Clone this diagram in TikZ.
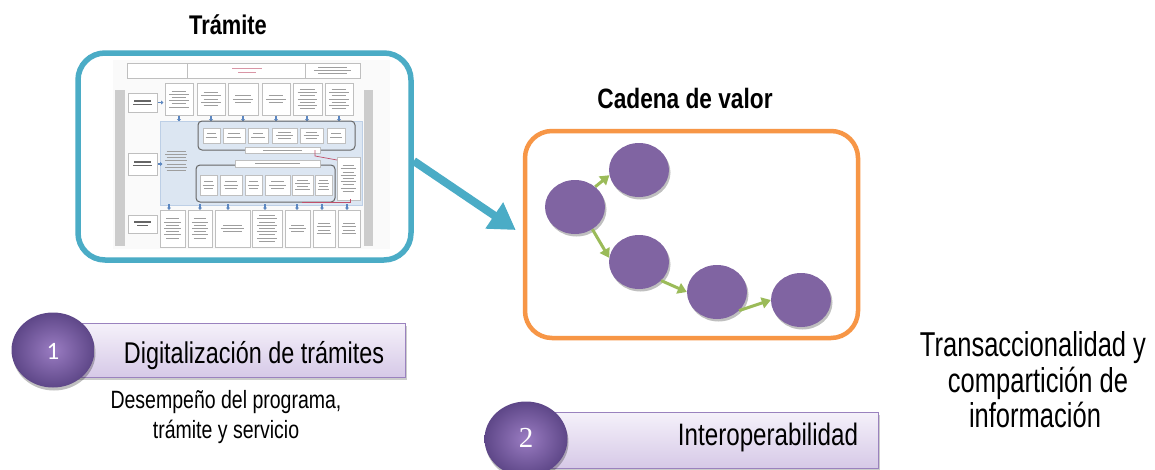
\documentclass[tikz,border=0pt]{standalone}
\usepackage{fontspec}
\setmainfont{Liberation Sans}
\newfontfamily\nar{Liberation Sans}[FakeStretch=0.78]
\newfontfamily\narr{Liberation Sans}[FakeStretch=0.74]
\newfontfamily\narb{Liberation Sans}[FakeStretch=0.81]
\newfontfamily\carl{Carlito}
\newfontfamily\tms{Liberation Serif}
\usetikzlibrary{arrows.meta,shadows,shapes.geometric}
\definecolor{tblue}{HTML}{4BACC6}
\definecolor{torange}{HTML}{F79646}
\definecolor{cpurple}{HTML}{8064A2}
\definecolor{cgreen}{HTML}{9BBB59}
\definecolor{rtop}{HTML}{F5F1FA}
\definecolor{rbot}{HTML}{D6C9E7}
\definecolor{rborder}{HTML}{9A82BE}
\definecolor{bin}{HTML}{9A7CC2}
\definecolor{bout}{HTML}{5E4788}
\definecolor{pmblue}{HTML}{DCE6F2}
\definecolor{pmarrow}{HTML}{5B86C0}
\definecolor{pmred}{HTML}{C0506A}
\tikzset{
  framebox/.style={draw, rounded corners=27pt, minimum width=333pt, minimum height=207pt, inner sep=0pt},
  chainball/.style={ellipse, fill=cpurple, minimum width=60pt, minimum height=54pt, inner sep=0pt,
    drop shadow={shadow xshift=1.5pt, shadow yshift=-2.5pt, opacity=0.25, fill=black}},
  garrow/.style={draw=cgreen, line width=3pt, -{Triangle[width=11pt,length=9pt]}},
  barrect/.style={draw=rborder, line width=1pt, top color=rtop, bottom color=rbot, minimum width=343pt, inner sep=0pt,
    drop shadow={shadow xshift=1.5pt, shadow yshift=-2.5pt, opacity=0.2, fill=black}},
  numball/.style={ellipse, inner color=bin, outer color=bout, minimum width=83pt, minimum height=75pt, inner sep=0pt,
    drop shadow={shadow xshift=1pt, shadow yshift=-3pt, opacity=0.25, fill=black}},
  lbl/.style={anchor=base, inner sep=0pt, text=black},
  pmb/.style={draw=black!25, line width=0.6pt, fill=white},
  pml/.style={draw=black!38, line width=1pt},
  pmd/.style={draw=black!60, line width=1.1pt},
  pma/.style={draw=pmarrow, line width=1.6pt, -{Triangle[width=4pt,length=2.5pt]}},
}
\newcommand\pmbx[5]{%
  \draw[pmb] (#1,#2) rectangle (#3,#4);
  \pgfmathsetmacro\pmcy{(#2+#4)/2}
  \pgfmathsetmacro\pmw{(#3-#1)}
  \foreach \k in {1,...,#5}{
    \pgfmathsetmacro\pmy{\pmcy+(\k-(#5+1)/2)*3.2}
    \pgfmathsetmacro\pmi{(0.16+0.08*mod(\k,2))*\pmw}
    \draw[pml] ({#1+\pmi},\pmy) -- ({#3-\pmi},\pmy);
  }}
\begin{document}
\begin{tikzpicture}[x=1pt,y=-1pt]
\useasboundingbox[fill=white] (0,0) rectangle (1155,469);

% ---------- titles ----------
\node[lbl] (ttram) at (228,34) {\narb\fontsize{27}{30}\selectfont\bfseries Trámite};
\node[lbl] (tcad) at (685,108) {\narb\fontsize{28}{31}\selectfont\bfseries Cadena de valor};

% ---------- process map (blurred picture) ----------
\fill[black!2] (113,60) rectangle (390,249);
\draw[pmb] (127,63) rectangle (187,78);
\draw[pmb] (187,63) rectangle (305,78);
\draw[draw=pmred!60, line width=1pt] (232,68) -- (262,68) (238,72) -- (256,72);
\pmbx{305}{63}{360}{78}{3}
\fill[black!20] (115,90) rectangle (125,246);
\fill[black!20] (364,90) rectangle (373,246);
% row 1
\draw[pmb] (128,93) rectangle (157,112);
\draw[pmd] (134,101) -- (151,101) (133,104.5) -- (152,104.5);
\draw[pma] (157.5,102.5) -- (163.5,102.5);
\pmbx{165}{83}{193}{115}{6}
\pmbx{197}{83}{225}{115}{5}
\pmbx{228}{83}{258}{115}{3}
\pmbx{262}{83}{290}{115}{3}
\pmbx{293}{83}{322}{115}{7}
\pmbx{325}{83}{353}{115}{7}
\foreach \xx in {179,211,243,276,307,339} \draw[pma] (\xx,115.5) -- (\xx,121.5);
% operative region
\draw[draw=pmarrow!40, fill=pmblue, line width=0.6pt] (160,121) rectangle (362,205);
\draw[pmb] (128,153) rectangle (157,175);
\draw[pmd] (134,162) -- (151,162) (133,165.5) -- (152,165.5);
\draw[pma] (157.5,164) -- (162.5,164);
\foreach \k in {1,...,7} \draw[pml] ({165+mod(\k,2)*1.5},{148+\k*3.2}) -- ({187-mod(\k,2)*1.5},{148+\k*3.2});
\draw[draw=black!60, line width=1pt, rounded corners=4pt] (198,121) rectangle (355,150);
\pmbx{203}{128}{220}{143}{2}
\pmbx{223}{128}{245}{143}{2}
\pmbx{248}{128}{268}{143}{2}
\pmbx{272}{128}{297}{143}{3}
\pmbx{300}{128}{323}{143}{3}
\pmbx{327}{128}{345}{143}{2}
\pmbx{245}{147}{320}{153}{1}
\draw[draw=black!60, line width=1pt, rounded corners=4pt] (196,165) rectangle (335,202);
\pmbx{235}{160}{320}{167}{1}
\pmbx{200}{175}{217}{195}{3}
\pmbx{220}{175}{242}{195}{3}
\pmbx{245}{175}{262}{195}{3}
\pmbx{265}{175}{290}{195}{3}
\pmbx{292}{175}{313}{195}{4}
\pmbx{315}{175}{332}{195}{4}
\pmbx{337}{157}{360}{200}{9}
\draw[draw=pmred, line width=0.7pt] (315,150) -- (315,156) -- (337,160);
\draw[draw=pmred, line width=0.7pt] (302,202) -- (350,202) -- (350,199);
% support row
\foreach \xx in {169,200,228,265,297,322,347} \draw[pma] (\xx,204) -- (\xx,210);
\draw[pmb] (128,215) rectangle (157,233);
\draw[pmd] (134,222) -- (151,222) (137,225.5) -- (148,225.5);
\pmbx{160}{210}{185}{247}{7}
\pmbx{188}{210}{212}{247}{7}
\pmbx{215}{210}{250}{247}{3}
\pmbx{252}{210}{282}{247}{9}
\pmbx{285}{210}{310}{247}{3}
\pmbx{313}{210}{335}{247}{4}
\pmbx{338}{210}{360}{247}{4}

% ---------- frames ----------
\node[framebox, draw=tblue, line width=5.5pt] (tram) at (244.5,156.5) {};
\node[framebox, draw=torange, line width=4.5pt] (valor) at (691.5,234.5) {};
\draw[draw=tblue, line width=8pt, -{Triangle[width=30pt,length=26pt]}]
  ([yshift=-4.5pt]tram.east) -- ([xshift=-7pt,yshift=4.5pt]valor.west);

% ---------- value chain ----------
\node[chainball] (c1) at (575,207) {};
\node[chainball] (c2) at (639,170) {};
\node[chainball] (c3) at (639,262) {};
\node[chainball] (c4) at (717,292) {};
\node[chainball] (c5) at (801,300) {};
\draw[garrow] (c1.45) -- (c2.190);
\draw[garrow] (c1.-52) -- (c3.172);
\draw[garrow] (c3.-40) -- (c4.180);
\draw[garrow] (c4.-40) -- (c5.180);

% ---------- bar 1 ----------
\node[barrect, minimum height=54pt] (r1) at (233.5,350) {};
\node[numball] (n1) at (53,350) {};
\node[lbl, text=white] (n1t) at (53,359) {\carl\fontsize{25}{28}\selectfont 1};
\node[lbl] (t1) at (254,363) {\nar\fontsize{30}{33}\selectfont Digitalización de trámites};
\node[lbl] (d1) at (226,408) {\nar\fontsize{25}{28}\selectfont Desempeño del programa,};
\node[lbl] (d2) at (226,438) {\nar\fontsize{25}{28}\selectfont trámite y servicio};

% ---------- bar 2 ----------
\node[barrect, minimum height=56pt] (r2) at (706.5,440) {};
\node[numball] (n2) at (526,439) {};
\node[lbl, text=white] (n2t) at (526,447) {\tms\fontsize{29}{32}\selectfont 2};
\node[lbl] (t2) at (768,445) {\nar\fontsize{31}{34}\selectfont Interoperabilidad};

% ---------- right text ----------
\node[lbl] (x1) at (1033,356) {\narr\fontsize{34.5}{36}\selectfont Transaccionalidad y};
\node[lbl] (x2) at (1038,392) {\narr\fontsize{34.5}{36}\selectfont compartición de};
\node[lbl] (x3) at (1035,427) {\narr\fontsize{34.5}{36}\selectfont información};
\end{tikzpicture}
\end{document}
